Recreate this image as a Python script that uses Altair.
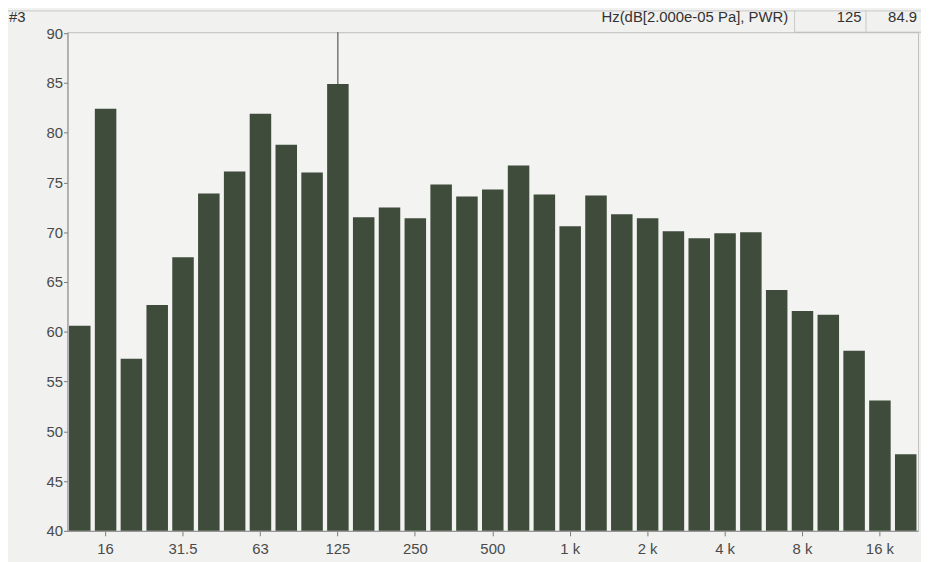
import altair as alt
import pandas as pd

# 1/3-octave bands and levels (dB re 2e-05 Pa)
bands = ["12.5", "16", "20", "25", "31.5", "40", "50", "63", "80", "100",
         "125", "160", "200", "250", "315", "400", "500", "630", "800", "1 k",
         "1.25 k", "1.6 k", "2 k", "2.5 k", "3.15 k", "4 k", "5 k", "6.3 k",
         "8 k", "10 k", "12.5 k", "16 k", "20 k"]
levels = [60.6, 82.4, 57.3, 62.7, 67.5, 73.9, 76.1, 81.9, 78.8, 76.0,
          84.9, 71.5, 72.5, 71.4, 74.8, 73.6, 74.3, 76.7, 73.8, 70.6,
          73.7, 71.8, 71.4, 70.1, 69.4, 69.9, 70.0, 64.2, 62.1, 61.7,
          58.1, 53.1, 47.7]
x_labels = ["16", "31.5", "63", "125", "250", "500", "1 k", "2 k", "4 k", "8 k", "16 k"]
y_ticks = [40, 45, 50, 55, 60, 65, 70, 75, 80, 85, 90]
y_min = 40
y_max = 90.1
cursor_band = "125"
panel_id = "#3"
unit_text = "Hz(dB[2.000e-05 Pa], PWR)"

df = pd.DataFrame({"band": bands, "level": levels, "base": [y_min] * len(bands)})

FONT = "Liberation Sans"
BAR = "#3f4b3b"

base = alt.Chart(df)

x_enc = alt.X(
    "band:N", sort=bands,
    scale=alt.Scale(paddingInner=0.167, paddingOuter=0.06),
    axis=alt.Axis(values=x_labels, labelAngle=0, title=None, tickSize=5,
                  labelPadding=6, domain=True),
)
y_enc = alt.Y(
    "level:Q",
    scale=alt.Scale(domain=[y_min, y_max], nice=False, zero=False),
    axis=alt.Axis(values=y_ticks, title=None, grid=False, tickSize=4, labelPadding=1),
)

bars = base.mark_bar(color=BAR, opacity=1).encode(
    x=x_enc, y=y_enc, y2="base:Q"
)

cur = base.transform_filter(alt.datum.band == cursor_band)

cursor_rule = cur.mark_rule(color="#3a3a3a", strokeWidth=1).encode(
    x=alt.X("band:N", sort=bands), y="level:Q", y2=alt.value(0)
)

hdr_font = dict(font=FONT, fontSize=15, color="#333", baseline="middle")

id_text = cur.mark_text(text=panel_id, align="left", **hdr_font).encode(
    x=alt.value(-59), y=alt.value(-15)
)
unit = cur.mark_text(text=unit_text, align="right", **hdr_font).encode(
    x=alt.value(727), y=alt.value(-15)
)
band_val = cur.mark_text(align="right", **hdr_font).encode(
    text="band:N", x=alt.value(801), y=alt.value(-15)
)
level_val = cur.mark_text(align="right", **hdr_font).encode(
    text=alt.Text("level:Q", format=".1f"), x=alt.value(857), y=alt.value(-15)
)

line_col = "#c8c8c8"
top_line = cur.mark_rule(color=line_col, strokeWidth=1).encode(
    x=alt.value(-60), x2=alt.value(862), y=alt.value(-21.5)
)
frame_ext = cur.mark_rule(color="#bdbdbd", strokeWidth=1).encode(
    x=alt.value(733.5), x2=alt.value(862), y=alt.value(0)
)
box_l = cur.mark_rule(color=line_col, strokeWidth=1).encode(
    x=alt.value(733.5), y=alt.value(-22), y2=alt.value(0)
)
box_m = cur.mark_rule(color=line_col, strokeWidth=1).encode(
    x=alt.value(805.5), y=alt.value(-22), y2=alt.value(0)
)

chart = alt.layer(
    bars, cursor_rule, top_line, frame_ext, box_l, box_m,
    id_text, unit, band_val, level_val
).properties(
    width=858, height=503,
    autosize=alt.AutoSizeParams(type="none"),
    padding={"left": 60, "top": 22, "right": 3, "bottom": 29},
    background="#f1f1ef",
).configure_view(
    stroke="#bdbdbd", strokeWidth=1, fill="#f3f3f2"
).configure_axis(
    labelFont=FONT, labelFontSize=15, labelColor="#4a4a4a",
    domainColor="#8c8c8c", tickColor="#7a7a7a",
)

chart.save("out.html", embed_options={"renderer": "svg", "actions": False})
